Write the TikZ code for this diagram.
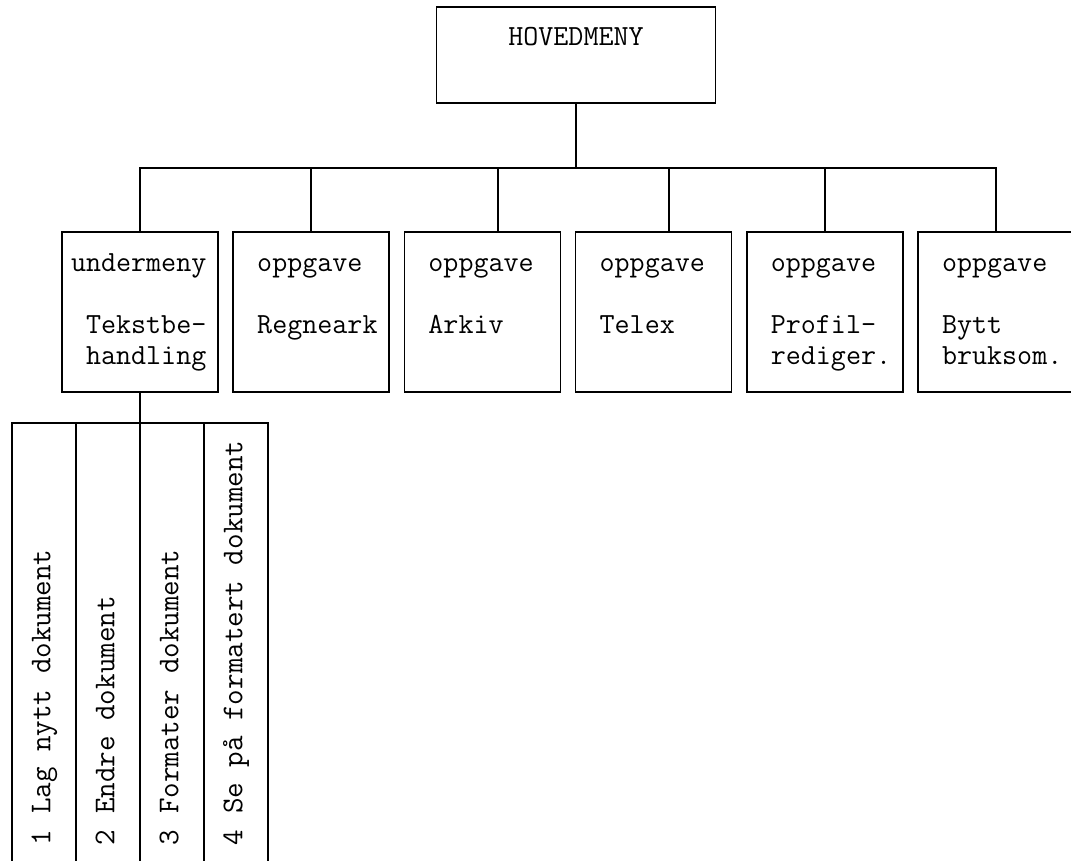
\documentclass[tikz,border=0pt]{standalone}
\usepackage{graphicx}

\newcommand{\tsp}{\hphantom{x}}
\newcommand{\rotlabel}[1]{\rotatebox{90}{\makebox[201.5pt][l]{\strut #1}}}

\begin{document}
\begin{tikzpicture}[node distance=85.6pt,align=left,thick,
        main node/.style={rectangle,draw,inner sep=0pt,
            font=\ttfamily\fontsize{14.6pt}{15.5pt}\selectfont,
            execute at begin node=\strut,execute at end node=\strut},
        task node/.style={main node,minimum width=78pt,minimum height=80pt,text width=69pt},
        cell node/.style={rectangle,draw,inner sep=0pt,minimum width=32pt,minimum height=220.5pt,
            font=\ttfamily\fontsize{15.1pt}{16pt}\selectfont},
        tree/.style={to path={|- (\tikztotarget)}}]

    \useasboundingbox (0,0) rectangle (535.5pt,-430.5pt);

    \node[main node,minimum width=139.5pt,minimum height=48pt,text width=70pt,align=center] (1) at (288pt,-27.5pt) {HOVEDMENY\\[-3pt]};
    \node[task node] (2) [below of=1,node distance=128.5pt,xshift=-218pt] {undermeny\\[15.5pt]\tsp Tekstbe-\\\tsp handling};
    \node[task node] (3) [right of=2] {\tsp oppgave\\[15.5pt]\tsp Regneark\\};
    \node[task node] (4) [right of=3] {\tsp oppgave\\[15.5pt]\tsp Arkiv\\};
    \node[task node] (5) [right of=4] {\tsp oppgave\\[15.5pt]\tsp Telex\\};
    \node[task node] (6) [right of=5] {\tsp oppgave\\[15.5pt]\tsp Profil-\\\tsp rediger.};
    \node[task node] (7) [right of=6] {\tsp oppgave\\[15.5pt]\tsp Bytt\\\tsp bruksom.};

    \node[cell node] (8) [below of=2,node distance=165.75pt,xshift=-48pt] {\rotlabel{1 Lag nytt dokument}};
    \node[cell node] (9) [right of=8,node distance=32pt] {\rotlabel{2 Endre dokument}};
    \node[cell node] (10) [right of=9,node distance=32pt] {\rotlabel{3 Formater dokument}};
    \node[cell node] (11) [right of=10,node distance=32pt] {\rotlabel{4 Se på formatert dokument}};

    \coordinate (b) at ([yshift=-32pt]1.south);

    \path
    (1) edge (b)
    (2.north) edge[tree] (b)
    (3.north) edge[tree] (b)
    ([xshift=7.75pt]4.north) edge[tree] (b)
    ([xshift=7.75pt]5.north) edge[tree] (b)
    (6.north) edge[tree] (b)
    (7.north) edge[tree] (b)
    (2) edge (2 |- 9.north);
\end{tikzpicture}
\end{document}
